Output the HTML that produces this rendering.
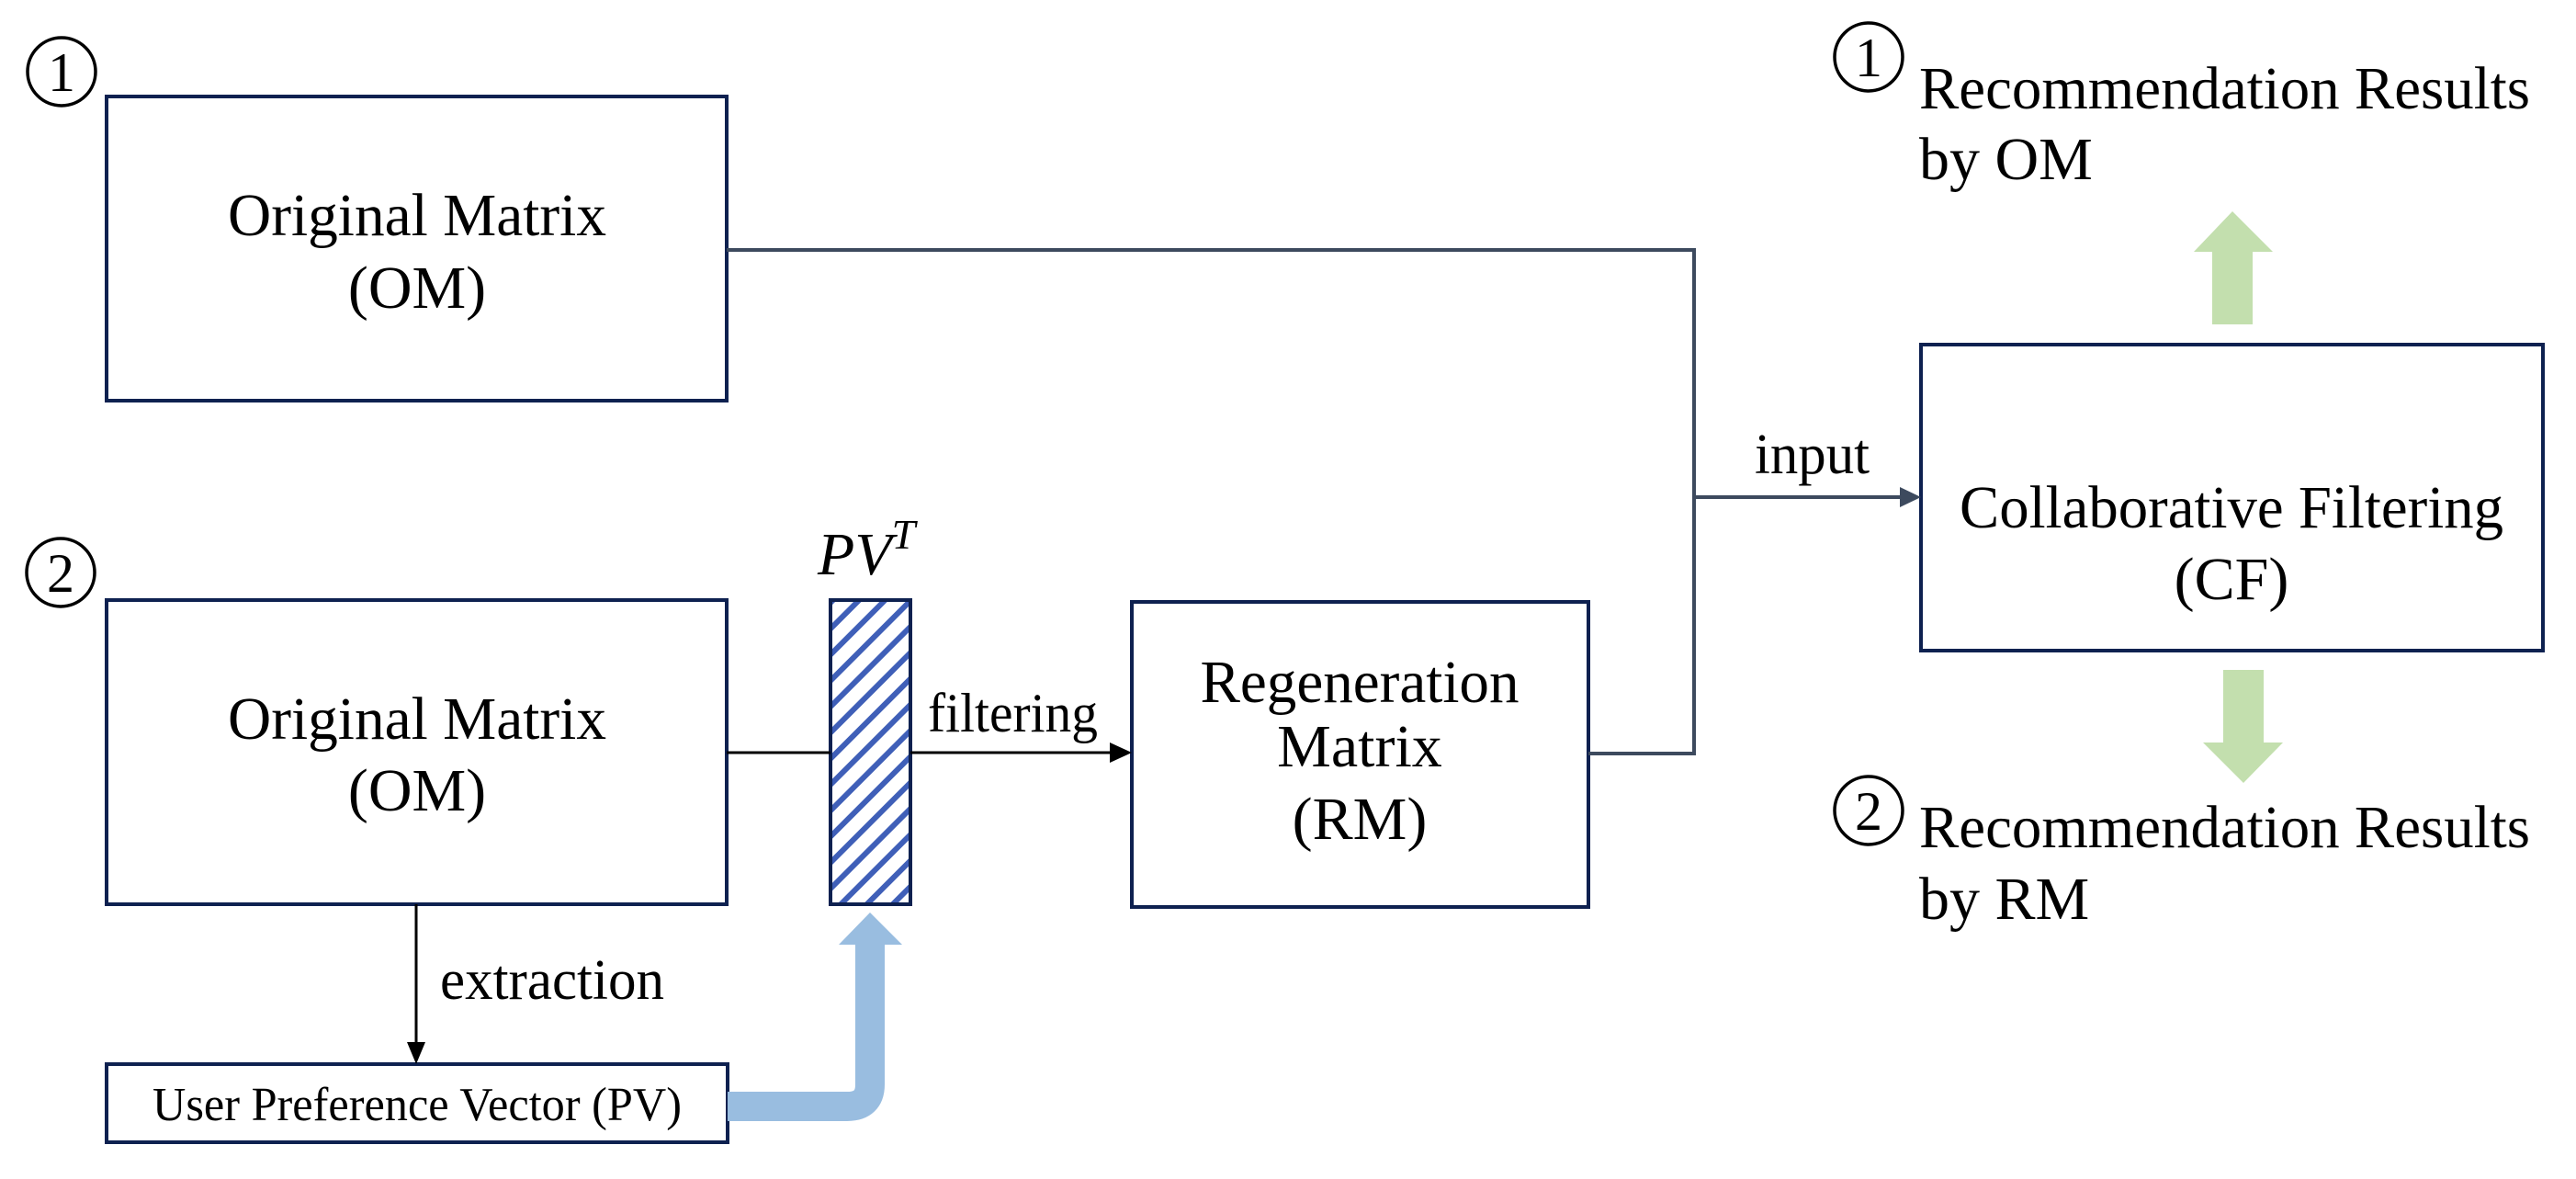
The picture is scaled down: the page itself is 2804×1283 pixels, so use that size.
<!DOCTYPE html>
<html><head><meta charset="utf-8"><style>html,body{margin:0;padding:0;background:#fff}svg{display:block}text{font-family:"Liberation Serif","Times New Roman",Times,serif}</style></head>
<body>
<svg width="2804" height="1283" viewBox="0 0 2804 1283" xmlns="http://www.w3.org/2000/svg" fill="#000">
<defs>
<pattern id="h" patternUnits="userSpaceOnUse" width="20" height="20" patternTransform="rotate(-45)">
<rect width="20" height="20" fill="#fff"/><rect width="20" height="6" fill="#3f5fb8"/>
</pattern>
</defs>
<g fill="none" stroke="#0e2150" stroke-width="4">
<rect x="116" y="105" width="675" height="331"/>
<rect x="116" y="653" width="675" height="331"/>
<rect x="116" y="1158" width="676" height="85"/>
<rect x="1232" y="655" width="497" height="332"/>
<rect x="2091" y="375" width="677" height="333"/>
<rect x="904" y="653" width="87" height="331" fill="url(#h)"/>
</g>
<g fill="none" stroke="#000" stroke-width="3.5">
<circle cx="67" cy="78" r="37"/>
<circle cx="66" cy="623" r="37"/>
<circle cx="2034" cy="62" r="37"/>
<circle cx="2034" cy="882" r="37"/>
</g>
<g font-size="60" text-anchor="middle">
<text x="67" y="99">1</text><text x="66" y="644">2</text>
<text x="2034" y="83">1</text><text x="2034" y="903">2</text>
</g>
<g fill="none" stroke="#3d4a5e" stroke-width="4">
<polyline points="791,272 1844,272 1844,820 1729,820"/>
<line x1="1844" y1="541" x2="2072" y2="541"/>
</g>
<polygon points="2091,541 2068,530 2068,552" fill="#3d4a5e"/>
<g stroke="#000" stroke-width="3">
<line x1="791" y1="819" x2="904" y2="819"/>
<line x1="991" y1="819" x2="1212" y2="819"/>
<line x1="453" y1="984" x2="453" y2="1138"/>
</g>
<polygon points="1232,819 1208,808 1208,830" fill="#000"/>
<polygon points="453,1158 443,1134 463,1134" fill="#000"/>
<path d="M792,1204 L922,1204 Q947,1204 947,1180 L947,1028" fill="none" stroke="#99bde0" stroke-width="32"/>
<polygon points="913,1028 982,1028 947,993" fill="#99bde0"/>
<polygon points="2408,353 2452,353 2452,274 2474,274 2430,230 2388,274 2408,274" fill="#c3dfae"/>
<polygon points="2420,729 2464,729 2464,808 2485,808 2442,852 2398,808 2420,808" fill="#c3dfae"/>
<g font-size="66" text-anchor="middle">
<text x="454" y="256" textLength="412" lengthAdjust="spacingAndGlyphs">Original Matrix</text>
<text x="454" y="335">(OM)</text>
<text x="454" y="804" textLength="412" lengthAdjust="spacingAndGlyphs">Original Matrix</text>
<text x="454" y="882">(OM)</text>
<text x="1480" y="764" textLength="347" lengthAdjust="spacingAndGlyphs">Regeneration</text>
<text x="1480" y="834">Matrix</text>
<text x="1480" y="913">(RM)</text>
<text x="2429" y="574" textLength="592" lengthAdjust="spacingAndGlyphs">Collaborative Filtering</text>
<text x="2429" y="652">(CF)</text>
</g>
<g font-size="66">
<text x="2089" y="118" textLength="665" lengthAdjust="spacingAndGlyphs">Recommendation Results</text>
<text x="2089" y="195">by OM</text>
<text x="2089" y="922" textLength="665" lengthAdjust="spacingAndGlyphs">Recommendation Results</text>
<text x="2089" y="1000">by RM</text>
</g>
<text x="1910" y="515" font-size="62" textLength="125" lengthAdjust="spacingAndGlyphs">input</text>
<text x="1010" y="796" font-size="60" textLength="185" lengthAdjust="spacingAndGlyphs">filtering</text>
<text x="479" y="1087" font-size="62" textLength="244" lengthAdjust="spacingAndGlyphs">extraction</text>
<text x="454" y="1219" font-size="52" text-anchor="middle" textLength="576" lengthAdjust="spacingAndGlyphs">User Preference Vector (PV)</text>
<text x="890" y="625" font-size="66" font-style="italic">PV<tspan font-size="46" dy="-28">T</tspan></text>
</svg>
</body></html>
